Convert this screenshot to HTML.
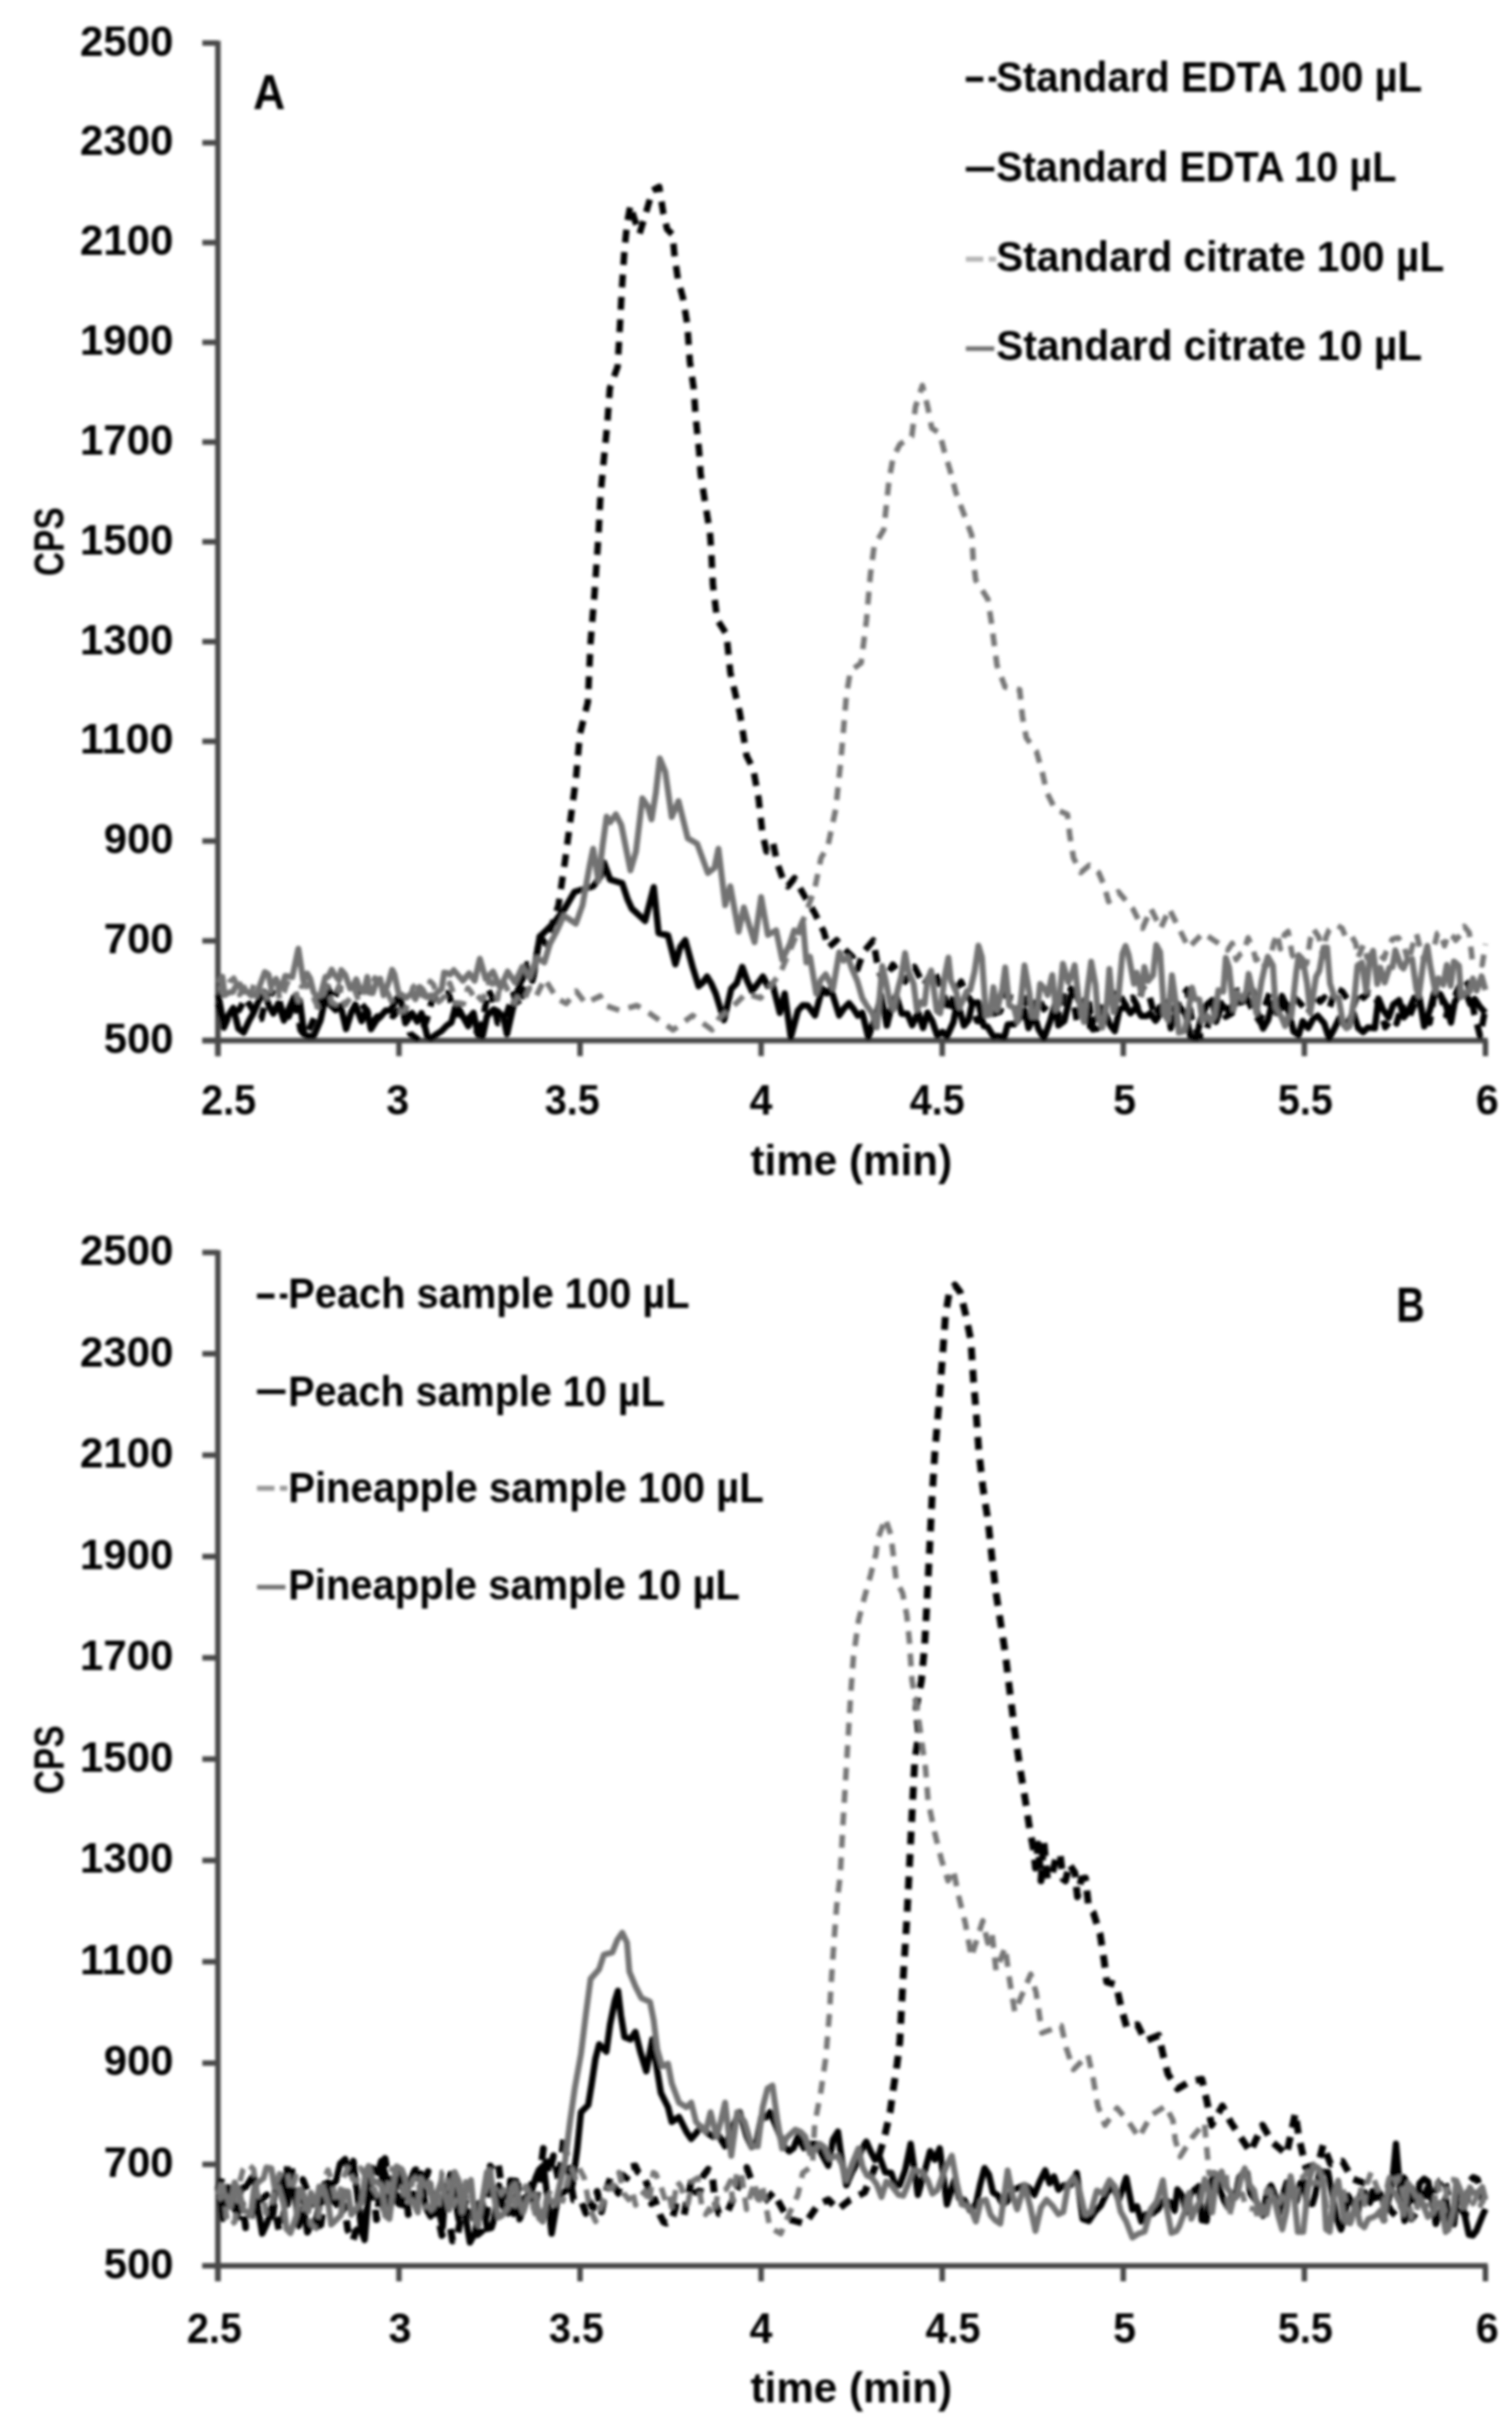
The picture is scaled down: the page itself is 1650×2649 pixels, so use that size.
<!DOCTYPE html>
<html lang="en"><head><meta charset="utf-8"><title>Chromatograms A and B</title>
<style>html,body{margin:0;padding:0;background:#fff}svg{display:block}text{font-family:"Liberation Sans", "DejaVu Sans", sans-serif;font-weight:700;fill:#000}.ln{fill:none;stroke-linejoin:round;stroke-linecap:butt}.ax{fill:none;stroke:#4a4a4a;stroke-width:6}</style></head><body>
<svg width="1650" height="2649" viewBox="0 0 1650 2649">
<defs><filter id="bl" x="-2%" y="-2%" width="104%" height="104%"><feGaussianBlur stdDeviation="1.7"/></filter></defs>
<rect width="1650" height="2649" fill="#fff"/>
<g filter="url(#bl)">
<path class="ax" d="M237.8 44.5 V1152.3 M220.8 1135.3 H1623.5"/>
<path class="ax" d="M220.8 1135.3 H237.8"/>
<text x="189.3" y="1148.8" font-size="46" text-anchor="end" textLength="76" lengthAdjust="spacingAndGlyphs">500</text>
<path class="ax" d="M220.8 1026.5 H237.8"/>
<text x="189.3" y="1040.0" font-size="46" text-anchor="end" textLength="76" lengthAdjust="spacingAndGlyphs">700</text>
<path class="ax" d="M220.8 917.6 H237.8"/>
<text x="189.3" y="931.1" font-size="46" text-anchor="end" textLength="76" lengthAdjust="spacingAndGlyphs">900</text>
<path class="ax" d="M220.8 808.8 H237.8"/>
<text x="189.3" y="822.3" font-size="46" text-anchor="end" textLength="102" lengthAdjust="spacingAndGlyphs">1100</text>
<path class="ax" d="M220.8 700.0 H237.8"/>
<text x="189.3" y="713.5" font-size="46" text-anchor="end" textLength="102" lengthAdjust="spacingAndGlyphs">1300</text>
<path class="ax" d="M220.8 591.1 H237.8"/>
<text x="189.3" y="604.6" font-size="46" text-anchor="end" textLength="102" lengthAdjust="spacingAndGlyphs">1500</text>
<path class="ax" d="M220.8 482.3 H237.8"/>
<text x="189.3" y="495.8" font-size="46" text-anchor="end" textLength="102" lengthAdjust="spacingAndGlyphs">1700</text>
<path class="ax" d="M220.8 373.5 H237.8"/>
<text x="189.3" y="387.0" font-size="46" text-anchor="end" textLength="102" lengthAdjust="spacingAndGlyphs">1900</text>
<path class="ax" d="M220.8 264.7 H237.8"/>
<text x="189.3" y="278.2" font-size="46" text-anchor="end" textLength="102" lengthAdjust="spacingAndGlyphs">2100</text>
<path class="ax" d="M220.8 155.8 H237.8"/>
<text x="189.3" y="169.3" font-size="46" text-anchor="end" textLength="102" lengthAdjust="spacingAndGlyphs">2300</text>
<path class="ax" d="M220.8 47.0 H237.8"/>
<text x="189.3" y="60.5" font-size="46" text-anchor="end" textLength="102" lengthAdjust="spacingAndGlyphs">2500</text>
<path class="ax" d="M237.8 1135.3 V1152.3"/>
<text x="249.6" y="1216.0" font-size="46" text-anchor="middle" textLength="60" lengthAdjust="spacingAndGlyphs">2.5</text>
<path class="ax" d="M435.4 1135.3 V1152.3"/>
<text x="433.9" y="1216.0" font-size="46" text-anchor="middle" textLength="25" lengthAdjust="spacingAndGlyphs">3</text>
<path class="ax" d="M633.0 1135.3 V1152.3"/>
<text x="624.5" y="1216.0" font-size="46" text-anchor="middle" textLength="60" lengthAdjust="spacingAndGlyphs">3.5</text>
<path class="ax" d="M830.6 1135.3 V1152.3"/>
<text x="830.6" y="1216.0" font-size="46" text-anchor="middle" textLength="25" lengthAdjust="spacingAndGlyphs">4</text>
<path class="ax" d="M1028.2 1135.3 V1152.3"/>
<text x="1022.7" y="1216.0" font-size="46" text-anchor="middle" textLength="60" lengthAdjust="spacingAndGlyphs">4.5</text>
<path class="ax" d="M1225.8 1135.3 V1152.3"/>
<text x="1227.3" y="1216.0" font-size="46" text-anchor="middle" textLength="25" lengthAdjust="spacingAndGlyphs">5</text>
<path class="ax" d="M1423.4 1135.3 V1152.3"/>
<text x="1424.4" y="1216.0" font-size="46" text-anchor="middle" textLength="60" lengthAdjust="spacingAndGlyphs">5.5</text>
<path class="ax" d="M1621.0 1135.3 V1152.3"/>
<text x="1623.0" y="1216.0" font-size="46" text-anchor="middle" textLength="25" lengthAdjust="spacingAndGlyphs">6</text>
<text x="929" y="1281.5" font-size="46" text-anchor="middle" textLength="220" lengthAdjust="spacingAndGlyphs">time (min)</text>
<text transform="translate(69.5 591.0) rotate(-90)" font-size="46" text-anchor="middle" textLength="75" lengthAdjust="spacingAndGlyphs">CPS</text>
<path class="ln" stroke="#000" stroke-width="7" stroke-dasharray="14 10.5" d="M238.0 1095.0 L244.3 1121.2 L250.7 1105.9 L255.4 1103.0 L261.0 1102.0 L267.6 1089.2 L275.1 1100.2 L280.6 1111.6 L285.1 1111.6 L291.4 1085.1 L297.0 1083.0 L302.9 1085.2 L310.7 1113.1 L315.2 1108.8 L322.1 1090.1 L327.9 1123.6 L333.3 1130.7 L340.6 1116.1 L345.1 1104.8 L352.3 1082.1 L357.1 1076.5 L363.8 1091.7 L369.3 1078.9 L375.4 1079.4 L383.1 1080.7 L388.7 1077.4 L393.5 1093.8 L400.9 1103.2 L405.3 1116.7 L411.7 1108.9 L418.9 1108.5 L424.3 1105.8 L429.0 1108.7 L437.2 1099.4 L441.3 1097.8 L447.4 1127.6 L454.7 1133.0 L459.6 1126.0 L465.5 1113.2 L471.0 1093.0 L477.0 1085.0 L484.2 1083.8 L489.4 1083.5 L496.2 1107.2 L501.7 1105.2 L507.9 1114.8 L515.1 1107.0 L520.0 1125.3 L526.2 1117.0 L532.9 1080.5 L537.2 1088.0 L543.2 1116.3 L551.0 1111.8 L560.0 1085.0 L568.0 1098.0 L575.0 1052.0 L582.0 1066.0 L589.0 1022.0 L596.0 1030.0 L603.7 1005.0 L609.5 987.5 L616.8 938.0 L622.6 894.0 L628.4 850.7 L632.8 801.0 L641.5 766.0 L644.4 702.0 L648.8 647.0 L653.0 586.0 L655.3 540.0 L659.7 493.4 L662.6 464.0 L665.5 423.6 L674.0 400.0 L676.6 353.7 L678.6 316.0 L681.5 272.0 L684.4 243.0 L688.0 224.0 L692.0 238.0 L698.0 254.8 L706.0 228.6 L712.0 208.0 L719.4 203.8 L723.7 231.5 L728.0 250.0 L734.0 256.0 L736.0 278.0 L739.7 304.0 L745.5 326.0 L750.0 353.7 L752.8 394.5 L757.0 423.6 L759.0 452.7 L763.0 493.4 L764.5 516.7 L770.0 551.6 L774.7 580.7 L776.0 598.0 L778.0 638.0 L782.6 676.0 L792.8 692.0 L797.0 734.0 L807.4 778.0 L814.7 824.5 L822.0 839.0 L827.8 871.0 L832.0 909.0 L836.5 929.0 L843.8 920.5 L848.0 941.0 L854.0 958.0 L859.8 967.0 L867.0 958.0 L877.0 976.0 L889.0 996.0 L899.0 1016.5 L904.0 1033.8 L913.0 1025.8 L922.4 1036.4 L930.4 1044.0 L935.7 1057.6 L942.0 1039.0 L953.0 1026.0 L958.5 1057.8 L963.8 1071.0 L974.4 1052.5 L987.6 1071.0 L998.0 1055.0 L1008.0 1075.0 L1019.0 1058.0 L1030.0 1085.0 L1035.6 1105.1 L1042.8 1079.2 L1048.9 1071.0 L1054.5 1084.9 L1059.5 1091.9 L1066.2 1113.9 L1072.2 1114.2 L1078.5 1108.0 L1083.7 1106.1 L1091.4 1103.6 L1097.3 1084.9 L1101.6 1088.2 L1107.9 1088.8 L1115.3 1108.7 L1119.9 1089.0 L1127.6 1103.5 L1132.6 1086.9 L1139.0 1101.0 L1145.1 1093.6 L1149.9 1097.9 L1156.1 1108.4 L1162.1 1076.4 L1169.1 1078.8 L1175.2 1113.6 L1179.9 1100.5 L1187.7 1087.5 L1192.6 1123.1 L1198.2 1122.0 L1204.7 1086.8 L1212.1 1086.6 L1217.1 1079.6 L1223.3 1088.1 L1230.0 1098.8 L1236.1 1088.5 L1241.7 1098.9 L1246.9 1077.5 L1253.3 1083.0 L1260.1 1109.1 L1265.9 1098.4 L1271.4 1096.2 L1276.9 1103.1 L1283.0 1098.7 L1289.9 1088.2 L1295.5 1079.7 L1300.2 1110.5 L1307.9 1130.9 L1314.4 1130.3 L1320.2 1111.9 L1326.5 1093.7 L1332.5 1094.3 L1337.6 1109.3 L1344.3 1105.5 L1349.3 1080.9 L1354.7 1080.9 L1361.3 1090.3 L1367.3 1102.8 L1374.8 1114.5 L1380.2 1097.9 L1385.9 1082.3 L1392.1 1107.9 L1397.0 1101.2 L1404.0 1096.3 L1410.4 1086.4 L1415.7 1091.5 L1421.4 1097.4 L1427.8 1106.0 L1433.6 1085.8 L1440.5 1092.9 L1445.3 1088.3 L1451.2 1098.8 L1457.7 1078.2 L1464.7 1081.6 L1470.9 1091.6 L1476.6 1098.5 L1483.3 1080.5 L1488.0 1088.5 L1493.2 1083.1 L1500.4 1085.8 L1506.3 1102.0 L1511.7 1120.7 L1518.9 1111.1 L1524.1 1116.6 L1529.9 1096.1 L1536.2 1113.6 L1543.7 1095.2 L1547.5 1087.1 L1554.3 1112.9 L1560.2 1115.9 L1566.0 1079.5 L1572.6 1086.3 L1578.1 1107.5 L1585.8 1092.8 L1590.8 1079.5 L1597.4 1067.8 L1602.1 1073.8 L1608.9 1105.8 L1615.2 1130.5 L1621.0 1100.0"/>
<path class="ln" stroke="#000" stroke-width="7" d="M238.0 1085.0 L244.1 1117.1 L250.3 1106.2 L254.6 1099.8 L260.2 1122.3 L265.9 1126.5 L271.9 1113.5 L276.2 1106.1 L282.7 1091.1 L288.1 1081.9 L293.8 1098.1 L298.3 1105.8 L303.8 1094.6 L309.8 1113.3 L316.7 1097.4 L320.9 1088.0 L327.1 1091.5 L331.9 1128.4 L337.0 1130.6 L342.4 1130.1 L349.8 1113.0 L355.3 1087.6 L359.8 1095.5 L366.1 1101.9 L371.7 1097.5 L377.7 1122.7 L383.4 1104.5 L387.7 1096.0 L394.6 1114.1 L400.1 1101.6 L404.8 1122.8 L411.0 1112.9 L415.6 1108.8 L420.9 1102.5 L426.2 1102.4 L433.2 1089.1 L437.1 1089.0 L442.4 1116.2 L449.7 1105.3 L455.2 1114.5 L460.0 1105.4 L466.4 1131.2 L470.1 1133.0 L476.1 1128.6 L481.8 1124.9 L487.6 1118.8 L492.6 1115.5 L497.9 1094.8 L504.1 1107.3 L511.0 1119.5 L516.7 1105.1 L521.7 1129.0 L526.6 1130.4 L531.6 1108.1 L538.9 1101.3 L543.4 1103.7 L549.4 1109.5 L553.3 1128.2 L562.0 1090.0 L568.0 1072.0 L575.0 1060.0 L581.0 1070.0 L589.0 1022.0 L603.7 1007.8 L615.3 993.0 L627.0 973.0 L647.3 967.0 L656.0 955.4 L659.0 941.0 L665.8 959.7 L679.0 963.7 L685.0 981.6 L689.6 991.4 L704.0 1004.7 L713.4 968.0 L718.7 1018.0 L729.0 1020.5 L737.0 1052.0 L742.4 1033.1 L747.8 1025.8 L755.8 1055.0 L762.4 1076.0 L767.0 1071.9 L771.6 1065.5 L776.3 1073.3 L781.0 1084.0 L790.0 1113.0 L798.0 1078.7 L804.0 1072.7 L810.0 1055.0 L815.3 1069.8 L820.6 1081.4 L826.5 1073.8 L832.5 1065.5 L837.8 1075.6 L843.0 1073.4 L851.0 1105.0 L856.3 1084.0 L863.0 1131.6 L870.8 1102.5 L876.1 1096.7 L881.4 1097.0 L889.4 1107.8 L897.3 1078.7 L902.0 1083.6 L906.6 1078.7 L915.8 1107.8 L921.1 1100.1 L926.4 1094.6 L931.3 1100.5 L936.1 1108.1 L941.0 1105.0 L947.6 1131.6 L956.8 1105.0 L961.4 1085.7 L967.8 1118.8 L974.4 1092.9 L978.0 1086.3 L984.0 1106.1 L990.2 1105.9 L995.5 1118.6 L1001.9 1104.6 L1007.3 1121.5 L1012.2 1104.9 L1017.3 1114.0 L1022.8 1129.8 L1028.4 1125.8 L1033.4 1130.8 L1040.4 1115.3 L1044.7 1092.7 L1052.0 1119.0 L1057.0 1112.7 L1061.1 1094.3 L1067.7 1093.7 L1073.4 1119.3 L1077.6 1120.1 L1084.2 1131.0 L1088.7 1130.4 L1096.0 1131.8 L1099.7 1117.7 L1106.7 1117.5 L1113.1 1110.6 L1118.3 1102.2 L1122.4 1121.6 L1128.6 1106.9 L1133.2 1122.5 L1139.2 1132.7 L1146.0 1114.3 L1151.4 1095.6 L1155.0 1118.6 L1161.4 1113.9 L1167.6 1087.7 L1172.0 1081.4 L1179.1 1095.5 L1184.8 1090.3 L1189.5 1119.7 L1194.6 1112.1 L1201.3 1105.7 L1206.0 1104.1 L1210.8 1117.7 L1216.5 1124.9 L1221.8 1100.8 L1228.9 1098.7 L1233.7 1105.5 L1239.7 1098.9 L1245.5 1108.4 L1251.4 1108.4 L1255.1 1105.7 L1261.1 1113.5 L1267.8 1104.2 L1273.0 1093.7 L1277.7 1121.8 L1283.8 1104.9 L1288.3 1099.7 L1293.7 1106.2 L1299.0 1130.6 L1305.3 1132.7 L1310.5 1111.2 L1316.7 1096.3 L1323.3 1091.1 L1326.9 1114.8 L1333.4 1096.5 L1339.7 1101.9 L1344.6 1097.4 L1349.9 1094.2 L1356.0 1093.1 L1359.8 1083.8 L1367.5 1080.9 L1372.4 1105.5 L1378.3 1122.1 L1383.8 1112.8 L1387.6 1096.6 L1393.1 1105.2 L1398.9 1086.6 L1405.2 1100.3 L1411.8 1125.6 L1417.2 1129.3 L1421.6 1114.2 L1427.6 1121.5 L1433.4 1110.8 L1438.0 1108.2 L1445.1 1116.6 L1450.5 1133.0 L1455.5 1123.4 L1461.5 1110.9 L1466.8 1118.1 L1472.0 1113.7 L1476.7 1104.8 L1482.1 1121.5 L1487.6 1126.0 L1492.7 1121.0 L1500.3 1121.7 L1504.3 1089.4 L1509.2 1101.5 L1515.4 1110.2 L1520.4 1096.1 L1526.8 1091.2 L1532.1 1109.8 L1537.2 1102.4 L1543.5 1088.4 L1548.9 1087.8 L1554.2 1119.8 L1560.9 1100.3 L1565.2 1082.7 L1571.3 1084.7 L1577.6 1095.7 L1583.4 1115.6 L1587.5 1093.0 L1592.2 1086.2 L1599.9 1084.0 L1604.4 1095.5 L1609.3 1090.0 L1614.6 1098.0 L1621.0 1105.0"/>
<path class="ln" stroke="#777777" stroke-width="6" stroke-dasharray="14 10.5" d="M238.0 1078.0 L241.1 1078.4 L246.5 1084.5 L250.5 1071.3 L255.1 1067.3 L258.6 1074.5 L261.4 1085.3 L266.6 1077.1 L271.2 1088.2 L273.6 1086.6 L276.8 1074.4 L281.7 1080.7 L285.5 1081.1 L289.2 1084.0 L292.9 1092.9 L297.1 1071.8 L302.9 1069.9 L304.9 1090.7 L310.3 1081.4 L313.3 1072.5 L317.3 1074.9 L322.8 1081.5 L325.5 1092.3 L329.2 1076.3 L333.9 1073.5 L338.5 1083.5 L342.1 1088.5 L346.9 1098.7 L349.8 1094.9 L354.1 1079.3 L358.5 1076.3 L361.9 1093.9 L366.5 1095.6 L369.9 1075.6 L373.1 1088.8 L377.1 1096.3 L382.7 1087.9 L386.6 1078.7 L391.1 1090.9 L394.5 1089.3 L398.2 1077.4 L401.2 1082.3 L406.8 1072.7 L409.1 1066.8 L413.8 1073.5 L417.1 1076.3 L421.7 1080.0 L425.5 1088.9 L429.8 1097.1 L434.5 1102.2 L438.1 1103.7 L441.4 1102.7 L446.7 1093.4 L450.6 1077.3 L454.8 1073.4 L456.9 1084.3 L462.3 1086.6 L466.9 1085.0 L469.4 1070.6 L473.3 1074.6 L478.8 1093.1 L481.7 1090.6 L485.8 1086.1 L490.8 1072.5 L493.7 1080.2 L497.3 1094.8 L501.3 1094.2 L505.6 1095.5 L510.5 1078.1 L513.7 1081.7 L518.7 1090.6 L521.0 1086.1 L525.4 1091.1 L530.3 1084.0 L534.0 1069.7 L538.0 1072.6 L543.0 1090.3 L545.5 1073.8 L549.2 1070.2 L552.9 1077.7 L558.0 1090.4 L561.5 1094.3 L565.9 1085.1 L568.8 1085.0 L572.8 1089.3 L577.7 1078.1 L582.6 1078.6 L585.5 1086.2 L594.4 1068.0 L607.6 1089.0 L618.0 1095.0 L628.8 1081.4 L639.0 1094.6 L655.0 1086.7 L660.5 1097.0 L676.4 1102.5 L695.0 1097.0 L708.0 1105.0 L734.6 1123.7 L755.8 1107.8 L777.0 1123.7 L785.0 1110.5 L803.4 1094.6 L814.0 1084.0 L829.8 1089.0 L840.4 1076.0 L851.0 1062.8 L865.0 1030.0 L878.0 1000.0 L889.0 970.0 L896.0 936.0 L903.4 923.4 L912.0 882.7 L917.8 828.0 L923.7 758.0 L928.0 732.0 L939.7 723.4 L945.5 677.0 L949.8 627.4 L954.0 595.4 L964.4 578.0 L970.0 525.5 L974.6 499.0 L982.0 484.8 L995.0 476.0 L999.0 444.0 L1006.6 420.7 L1012.4 444.0 L1016.8 467.0 L1025.5 473.0 L1030.0 490.6 L1037.0 514.0 L1043.0 537.0 L1051.7 560.4 L1060.4 583.7 L1062.0 610.0 L1064.8 633.0 L1078.0 653.6 L1082.0 679.8 L1085.0 703.0 L1088.0 726.0 L1096.8 749.6 L1112.8 752.5 L1115.7 781.6 L1120.0 805.0 L1131.0 819.7 L1137.0 840.8 L1142.4 864.7 L1151.6 883.0 L1164.9 888.5 L1167.5 912.0 L1171.5 936.0 L1179.4 952.0 L1188.7 944.0 L1199.0 952.0 L1204.5 965.0 L1209.8 983.7 L1220.4 973.0 L1236.3 991.6 L1246.9 1012.8 L1256.0 991.6 L1266.7 1012.8 L1276.0 991.6 L1286.6 1012.8 L1297.0 1034.0 L1313.0 1018.0 L1329.0 1028.7 L1339.5 1036.6 L1344.7 1029.2 L1349.0 1047.1 L1353.4 1041.0 L1357.2 1038.8 L1362.0 1023.2 L1367.3 1034.8 L1370.5 1047.4 L1376.5 1043.6 L1380.2 1054.7 L1384.9 1051.6 L1389.8 1029.3 L1393.9 1018.6 L1397.1 1035.3 L1401.8 1019.5 L1405.7 1016.3 L1410.2 1041.7 L1416.9 1052.7 L1420.5 1054.8 L1425.9 1051.4 L1429.9 1024.8 L1433.2 1013.5 L1439.2 1022.2 L1443.6 1044.2 L1446.9 1022.7 L1450.5 1014.4 L1455.5 1010.2 L1459.6 1009.8 L1464.6 1012.8 L1468.3 1021.9 L1474.3 1019.8 L1479.4 1029.2 L1482.0 1044.9 L1487.9 1030.6 L1491.9 1045.2 L1496.1 1047.2 L1501.5 1040.5 L1504.7 1041.0 L1510.3 1046.1 L1512.8 1038.1 L1519.5 1024.6 L1522.1 1023.8 L1526.1 1023.3 L1532.7 1033.8 L1536.8 1050.5 L1541.1 1033.0 L1545.8 1018.9 L1549.3 1033.0 L1553.2 1045.3 L1558.1 1038.2 L1564.1 1037.5 L1568.6 1018.2 L1571.3 1017.1 L1576.3 1031.9 L1580.7 1018.7 L1586.3 1022.4 L1588.6 1025.9 L1595.0 1018.4 L1598.1 1010.7 L1603.3 1017.5 L1606.7 1047.9 L1611.1 1050.6 L1617.5 1052.7 L1621.0 1030.0"/>
<path class="ln" stroke="#727272" stroke-width="6.5" d="M238.0 1072.0 L242.7 1065.7 L245.1 1085.8 L250.2 1082.8 L254.2 1082.2 L256.6 1077.3 L261.8 1073.9 L264.4 1082.0 L270.2 1082.0 L273.6 1086.0 L278.2 1085.6 L279.8 1086.6 L284.4 1073.0 L289.0 1060.5 L292.9 1062.9 L295.7 1076.0 L301.3 1067.9 L305.1 1078.0 L307.7 1076.3 L311.3 1064.7 L319.0 1066.0 L325.6 1035.0 L331.0 1070.0 L335.2 1062.2 L338.4 1067.4 L342.2 1082.6 L345.7 1087.2 L349.6 1086.3 L355.1 1065.8 L358.2 1065.7 L362.0 1058.0 L364.8 1063.0 L370.0 1069.5 L372.4 1058.4 L376.8 1063.6 L382.1 1078.5 L385.1 1076.3 L388.8 1068.4 L392.9 1079.1 L397.1 1082.2 L400.8 1065.9 L403.3 1083.0 L406.7 1083.5 L411.2 1069.7 L414.9 1067.8 L418.6 1085.9 L424.2 1071.3 L427.9 1058.1 L430.4 1062.7 L435.1 1084.3 L438.3 1085.1 L443.4 1088.6 L446.1 1086.3 L449.5 1083.4 L453.3 1090.2 L457.9 1076.8 L461.0 1079.5 L465.6 1087.9 L470.2 1085.9 L472.9 1089.2 L476.3 1083.5 L482.0 1079.1 L484.7 1061.1 L487.5 1061.5 L491.2 1063.2 L495.2 1058.5 L505.0 1070.0 L512.0 1062.0 L518.0 1070.0 L523.6 1046.0 L530.0 1068.0 L538.0 1060.0 L546.0 1078.0 L554.0 1060.0 L562.0 1072.0 L570.0 1055.0 L578.0 1066.0 L586.0 1045.0 L594.0 1050.0 L600.0 1030.0 L608.0 1015.0 L615.3 999.0 L628.4 1007.8 L635.7 987.5 L643.0 946.7 L647.3 926.0 L653.0 961.0 L657.5 923.4 L662.0 891.0 L666.0 897.0 L672.0 888.5 L678.0 900.0 L688.0 949.6 L694.0 929.0 L701.0 871.0 L707.0 880.0 L711.0 894.0 L715.7 865.0 L720.0 827.4 L726.0 842.0 L733.0 891.4 L740.4 874.0 L750.6 914.7 L760.8 920.5 L772.5 952.5 L779.7 946.7 L784.0 926.0 L791.4 987.5 L797.0 967.0 L806.0 1016.5 L811.7 990.0 L817.5 1009.2 L823.4 1028.0 L830.6 978.7 L838.0 1020.0 L847.0 1015.0 L853.7 1047.0 L862.0 1030.0 L866.7 1015.1 L871.3 1017.3 L876.0 1005.0 L880.0 1050.0 L884.0 1044.0 L890.7 1084.0 L895.9 1069.0 L901.0 1063.0 L909.0 1078.7 L915.8 1039.0 L920.5 1048.0 L925.3 1044.4 L930.0 1057.6 L935.5 1070.1 L941.0 1089.0 L946.3 1097.9 L951.6 1105.0 L957.0 1121.0 L962.8 1053.9 L966.6 1070.4 L971.5 1095.1 L975.2 1101.4 L979.7 1079.6 L983.4 1065.9 L987.7 1039.9 L991.1 1059.3 L997.0 1073.5 L1000.6 1101.5 L1005.2 1093.2 L1008.9 1095.6 L1011.8 1070.7 L1016.2 1058.9 L1022.3 1103.0 L1026.0 1105.5 L1030.8 1066.0 L1035.0 1044.7 L1037.6 1069.4 L1043.6 1082.6 L1046.9 1099.2 L1051.5 1090.0 L1055.2 1081.1 L1058.8 1080.1 L1063.5 1060.0 L1067.7 1031.8 L1071.5 1044.2 L1075.9 1107.7 L1080.3 1107.1 L1084.1 1077.1 L1088.0 1102.1 L1093.9 1078.5 L1097.0 1055.4 L1101.3 1096.9 L1106.5 1099.7 L1110.5 1114.6 L1114.1 1090.9 L1118.0 1053.2 L1123.4 1083.6 L1126.3 1109.2 L1131.1 1109.1 L1135.1 1073.4 L1140.8 1079.8 L1143.2 1085.6 L1148.3 1063.7 L1152.3 1101.8 L1155.4 1095.7 L1159.9 1051.4 L1165.8 1071.6 L1169.8 1062.6 L1172.7 1053.1 L1176.8 1088.0 L1182.9 1115.1 L1186.3 1082.6 L1190.8 1049.3 L1195.5 1074.4 L1198.1 1107.1 L1202.9 1121.1 L1208.1 1092.9 L1210.6 1057.2 L1215.0 1104.2 L1220.7 1085.6 L1224.9 1040.4 L1228.3 1032.0 L1231.6 1041.9 L1237.5 1073.4 L1240.5 1061.2 L1245.8 1084.4 L1248.8 1055.1 L1252.8 1070.3 L1258.3 1063.9 L1261.8 1031.1 L1266.0 1038.8 L1270.4 1106.5 L1274.6 1113.0 L1278.9 1064.0 L1283.5 1096.8 L1286.4 1126.6 L1292.0 1125.2 L1295.8 1110.6 L1300.8 1077.5 L1303.8 1089.7 L1308.9 1090.5 L1312.0 1113.7 L1317.4 1108.4 L1321.6 1114.2 L1325.5 1108.3 L1329.6 1080.4 L1334.9 1081.9 L1337.7 1045.1 L1341.3 1055.8 L1346.1 1101.3 L1349.6 1082.9 L1355.9 1090.3 L1360.0 1081.5 L1362.6 1062.6 L1367.9 1087.0 L1371.1 1105.8 L1376.9 1069.6 L1380.1 1055.5 L1383.5 1043.8 L1389.1 1053.4 L1392.0 1098.9 L1398.1 1108.9 L1402.4 1119.4 L1405.9 1108.9 L1409.2 1108.8 L1414.7 1059.4 L1417.2 1042.1 L1421.6 1047.0 L1426.3 1072.7 L1429.9 1105.2 L1436.1 1065.9 L1439.8 1059.0 L1444.4 1033.7 L1448.2 1033.7 L1451.4 1072.9 L1455.8 1086.6 L1460.8 1088.8 L1465.5 1115.5 L1469.3 1121.9 L1472.8 1119.7 L1478.1 1087.3 L1481.4 1053.4 L1486.2 1050.1 L1490.9 1081.7 L1494.7 1046.6 L1498.4 1037.3 L1503.0 1073.6 L1506.3 1055.8 L1511.1 1072.0 L1516.2 1055.8 L1519.6 1055.1 L1522.7 1036.8 L1528.9 1054.1 L1531.5 1056.7 L1535.4 1048.0 L1541.0 1046.4 L1545.6 1079.0 L1548.3 1086.6 L1553.3 1049.2 L1557.6 1032.0 L1561.0 1054.4 L1566.4 1082.2 L1569.7 1067.4 L1575.0 1074.3 L1578.8 1052.7 L1583.1 1075.7 L1586.6 1048.9 L1592.1 1053.8 L1594.5 1087.7 L1599.4 1082.9 L1603.2 1082.4 L1607.3 1067.6 L1611.4 1080.8 L1616.8 1065.2 L1621.0 1080.0"/>
<path class="ax" d="M237.8 1364.0 V2489.0 M220.8 2472.0 H1623.5"/>
<path class="ax" d="M220.8 2472.0 H237.8"/>
<text x="189.3" y="2485.5" font-size="46" text-anchor="end" textLength="76" lengthAdjust="spacingAndGlyphs">500</text>
<path class="ax" d="M220.8 2361.4 H237.8"/>
<text x="189.3" y="2374.9" font-size="46" text-anchor="end" textLength="76" lengthAdjust="spacingAndGlyphs">700</text>
<path class="ax" d="M220.8 2250.9 H237.8"/>
<text x="189.3" y="2264.4" font-size="46" text-anchor="end" textLength="76" lengthAdjust="spacingAndGlyphs">900</text>
<path class="ax" d="M220.8 2140.3 H237.8"/>
<text x="189.3" y="2153.8" font-size="46" text-anchor="end" textLength="102" lengthAdjust="spacingAndGlyphs">1100</text>
<path class="ax" d="M220.8 2029.8 H237.8"/>
<text x="189.3" y="2043.3" font-size="46" text-anchor="end" textLength="102" lengthAdjust="spacingAndGlyphs">1300</text>
<path class="ax" d="M220.8 1919.2 H237.8"/>
<text x="189.3" y="1932.8" font-size="46" text-anchor="end" textLength="102" lengthAdjust="spacingAndGlyphs">1500</text>
<path class="ax" d="M220.8 1808.7 H237.8"/>
<text x="189.3" y="1822.2" font-size="46" text-anchor="end" textLength="102" lengthAdjust="spacingAndGlyphs">1700</text>
<path class="ax" d="M220.8 1698.2 H237.8"/>
<text x="189.3" y="1711.7" font-size="46" text-anchor="end" textLength="102" lengthAdjust="spacingAndGlyphs">1900</text>
<path class="ax" d="M220.8 1587.6 H237.8"/>
<text x="189.3" y="1601.1" font-size="46" text-anchor="end" textLength="102" lengthAdjust="spacingAndGlyphs">2100</text>
<path class="ax" d="M220.8 1477.0 H237.8"/>
<text x="189.3" y="1490.5" font-size="46" text-anchor="end" textLength="102" lengthAdjust="spacingAndGlyphs">2300</text>
<path class="ax" d="M220.8 1366.5 H237.8"/>
<text x="189.3" y="1380.0" font-size="46" text-anchor="end" textLength="102" lengthAdjust="spacingAndGlyphs">2500</text>
<path class="ax" d="M237.8 2472.0 V2489.0"/>
<text x="234.0" y="2556.3" font-size="46" text-anchor="middle" textLength="60" lengthAdjust="spacingAndGlyphs">2.5</text>
<path class="ax" d="M435.4 2472.0 V2489.0"/>
<text x="436.4" y="2556.3" font-size="46" text-anchor="middle" textLength="25" lengthAdjust="spacingAndGlyphs">3</text>
<path class="ax" d="M633.0 2472.0 V2489.0"/>
<text x="629.0" y="2556.3" font-size="46" text-anchor="middle" textLength="60" lengthAdjust="spacingAndGlyphs">3.5</text>
<path class="ax" d="M830.6 2472.0 V2489.0"/>
<text x="830.6" y="2556.3" font-size="46" text-anchor="middle" textLength="25" lengthAdjust="spacingAndGlyphs">4</text>
<path class="ax" d="M1028.2 2472.0 V2489.0"/>
<text x="1040.0" y="2556.3" font-size="46" text-anchor="middle" textLength="60" lengthAdjust="spacingAndGlyphs">4.5</text>
<path class="ax" d="M1225.8 2472.0 V2489.0"/>
<text x="1227.3" y="2556.3" font-size="46" text-anchor="middle" textLength="25" lengthAdjust="spacingAndGlyphs">5</text>
<path class="ax" d="M1423.4 2472.0 V2489.0"/>
<text x="1424.4" y="2556.3" font-size="46" text-anchor="middle" textLength="60" lengthAdjust="spacingAndGlyphs">5.5</text>
<path class="ax" d="M1621.0 2472.0 V2489.0"/>
<text x="1623.0" y="2556.3" font-size="46" text-anchor="middle" textLength="25" lengthAdjust="spacingAndGlyphs">6</text>
<text x="929" y="2620.5" font-size="46" text-anchor="middle" textLength="220" lengthAdjust="spacingAndGlyphs">time (min)</text>
<text transform="translate(69.5 1920.0) rotate(-90)" font-size="46" text-anchor="middle" textLength="75" lengthAdjust="spacingAndGlyphs">CPS</text>
<path class="ln" stroke="#000" stroke-width="7.5" stroke-dasharray="14 10.5" d="M238.0 2390.0 L242.7 2374.7 L248.0 2404.2 L251.4 2380.9 L256.6 2400.2 L259.7 2423.6 L264.5 2404.1 L268.2 2430.4 L273.8 2421.0 L277.7 2404.1 L283.0 2405.4 L285.8 2399.2 L291.1 2394.8 L296.7 2425.0 L298.9 2406.3 L304.8 2434.3 L309.3 2419.4 L313.9 2360.3 L317.9 2364.7 L322.2 2392.9 L327.7 2409.2 L330.5 2378.1 L336.0 2392.1 L340.3 2391.5 L344.9 2420.3 L348.7 2436.1 L352.0 2415.0 L358.3 2381.1 L361.5 2404.6 L367.2 2400.9 L372.1 2416.1 L376.0 2406.3 L379.5 2432.7 L385.1 2444.4 L388.4 2434.0 L392.6 2430.6 L397.7 2425.4 L402.3 2399.7 L406.8 2380.9 L410.9 2421.6 L415.0 2390.4 L420.2 2355.0 L423.7 2376.3 L428.8 2379.1 L431.7 2378.6 L436.5 2412.8 L442.7 2382.2 L445.5 2415.9 L450.4 2398.4 L454.0 2367.2 L460.2 2374.7 L463.5 2378.4 L467.3 2369.1 L472.3 2407.7 L478.3 2419.8 L482.3 2438.9 L484.9 2433.5 L491.6 2431.5 L493.9 2444.9 L499.4 2438.4 L503.9 2413.5 L508.9 2399.4 L511.8 2402.1 L517.9 2425.7 L521.0 2438.0 L526.5 2433.5 L531.4 2415.2 L535.1 2363.3 L538.1 2368.6 L544.1 2362.5 L548.0 2392.4 L553.1 2402.0 L557.7 2406.7 L560.5 2415.1 L566.0 2384.8 L570.6 2406.1 L575.7 2398.2 L579.4 2383.5 L583.8 2413.2 L593.0 2344.0 L599.0 2372.0 L604.0 2352.0 L610.0 2380.0 L615.4 2331.0 L620.0 2365.0 L626.0 2400.0 L629.2 2399.6 L635.2 2403.3 L639.4 2414.8 L643.6 2402.2 L647.4 2409.3 L651.7 2391.0 L656.3 2413.1 L660.6 2393.2 L666.1 2376.4 L669.9 2385.0 L674.9 2392.9 L679.0 2372.8 L683.7 2376.6 L688.6 2364.0 L693.2 2363.1 L696.1 2369.6 L702.5 2374.5 L706.6 2384.2 L711.0 2404.2 L714.5 2399.6 L720.2 2416.5 L724.3 2424.4 L727.3 2425.6 L732.8 2423.0 L737.6 2407.1 L741.9 2409.5 L746.6 2416.3 L750.2 2397.4 L755.0 2378.6 L758.0 2391.5 L763.8 2392.4 L767.0 2374.4 L772.8 2366.7 L777.7 2376.9 L780.8 2404.5 L784.5 2414.9 L794.0 2413.0 L804.0 2390.0 L815.0 2365.0 L823.0 2388.0 L831.0 2405.0 L844.0 2392.0 L860.0 2421.0 L878.6 2426.0 L893.0 2405.0 L904.0 2400.0 L914.4 2410.5 L927.6 2400.0 L943.5 2392.0 L956.7 2360.0 L964.7 2333.8 L971.3 2304.7 L975.0 2278.0 L979.0 2251.7 L981.9 2228.0 L985.0 2168.0 L989.5 2095.6 L992.4 2037.4 L995.3 1979.0 L998.2 1921.0 L1002.6 1891.9 L999.7 1862.8 L1005.5 1833.7 L1009.0 1795.8 L1011.3 1753.0 L1014.2 1694.7 L1017.0 1636.5 L1020.0 1587.0 L1024.4 1534.6 L1028.8 1476.4 L1031.7 1435.7 L1036.0 1409.5 L1042.0 1402.0 L1047.7 1409.5 L1053.5 1432.8 L1059.4 1461.9 L1062.3 1505.5 L1065.2 1540.4 L1068.0 1581.0 L1072.5 1622.0 L1078.3 1659.8 L1082.6 1700.5 L1087.0 1738.3 L1092.8 1776.0 L1097.2 1805.0 L1101.6 1842.4 L1107.4 1889.0 L1113.2 1929.7 L1119.0 1964.6 L1123.4 1993.7 L1127.7 2017.0 L1130.0 2038.0 L1133.0 2012.0 L1136.0 2052.0 L1139.0 2008.0 L1143.0 2050.0 L1148.0 2046.0 L1152.0 2028.0 L1156.9 2022.8 L1160.0 2050.0 L1162.7 2052.0 L1167.0 2034.0 L1172.9 2043.0 L1175.8 2069.4 L1180.0 2050.0 L1184.5 2049.0 L1188.0 2080.0 L1193.2 2086.9 L1200.5 2110.0 L1204.9 2139.0 L1207.8 2162.5 L1218.0 2165.4 L1223.8 2191.6 L1229.6 2212.0 L1241.3 2209.0 L1250.0 2226.6 L1264.5 2220.7 L1269.3 2242.0 L1274.6 2263.0 L1285.0 2279.0 L1298.4 2271.0 L1311.6 2268.5 L1317.0 2292.0 L1322.2 2318.7 L1334.0 2297.6 L1343.4 2316.0 L1354.0 2332.0 L1364.5 2347.8 L1377.8 2318.7 L1388.4 2337.0 L1404.0 2350.5 L1413.5 2305.5 L1417.5 2332.0 L1425.0 2365.0 L1438.6 2361.0 L1444.0 2340.0 L1452.0 2361.0 L1465.0 2358.0 L1475.7 2377.0 L1497.0 2385.0 L1502.1 2404.1 L1506.5 2413.5 L1510.2 2422.2 L1515.5 2408.1 L1518.5 2412.7 L1523.2 2417.0 L1529.1 2412.1 L1531.8 2376.0 L1536.0 2382.5 L1540.2 2420.8 L1546.1 2413.4 L1550.9 2393.1 L1553.5 2402.0 L1558.9 2383.4 L1563.2 2386.0 L1567.4 2389.6 L1571.6 2379.2 L1576.4 2377.0 L1580.3 2395.4 L1586.6 2402.7 L1589.3 2393.4 L1594.5 2409.8 L1599.2 2417.4 L1603.7 2380.1 L1607.7 2375.7 L1612.2 2377.6 L1617.6 2399.8 L1621.0 2400.0"/>
<path class="ln" stroke="#000" stroke-width="7" d="M238.0 2385.0 L243.5 2420.9 L247.1 2389.1 L250.3 2386.7 L256.0 2410.6 L259.4 2400.1 L264.4 2387.0 L268.2 2386.2 L273.5 2377.9 L277.0 2373.9 L281.9 2411.3 L286.2 2436.8 L291.3 2425.7 L296.8 2410.8 L300.4 2389.1 L305.3 2383.8 L309.7 2376.4 L313.6 2405.4 L317.0 2385.0 L321.4 2390.1 L326.0 2428.7 L331.4 2408.4 L335.4 2435.5 L341.3 2424.8 L343.9 2425.1 L348.2 2408.5 L353.9 2382.8 L358.3 2404.2 L361.4 2384.2 L366.5 2379.9 L371.2 2360.5 L376.6 2355.7 L380.9 2370.1 L385.6 2357.7 L389.2 2388.4 L394.6 2434.9 L397.9 2443.8 L401.9 2396.4 L406.0 2365.2 L412.1 2370.6 L416.1 2357.5 L420.5 2371.8 L425.8 2405.7 L429.4 2401.5 L433.1 2366.6 L438.5 2387.4 L443.5 2391.7 L446.1 2382.8 L452.4 2367.8 L455.6 2375.6 L459.3 2371.4 L464.7 2408.9 L469.8 2418.1 L473.5 2411.0 L477.4 2405.5 L483.1 2430.0 L485.9 2393.4 L491.7 2371.9 L495.4 2392.9 L500.5 2421.4 L504.7 2388.4 L508.6 2422.1 L512.8 2446.5 L518.8 2435.4 L522.3 2403.8 L526.4 2403.4 L531.6 2431.7 L536.4 2430.5 L539.2 2421.0 L544.6 2384.4 L548.3 2406.4 L554.2 2414.8 L556.9 2378.9 L563.2 2379.4 L567.0 2421.2 L571.4 2410.6 L575.9 2394.3 L579.7 2391.8 L584.6 2375.8 L588.3 2367.2 L593.2 2362.6 L602.0 2436.8 L608.8 2397.0 L624.7 2384.0 L630.0 2344.0 L634.0 2304.5 L641.9 2296.6 L645.8 2272.8 L649.8 2246.0 L653.8 2230.5 L661.7 2238.4 L665.7 2209.0 L671.0 2183.0 L674.4 2172.0 L677.6 2198.7 L681.5 2222.5 L688.0 2225.0 L693.4 2217.0 L698.7 2238.4 L705.3 2259.6 L712.0 2225.0 L716.0 2251.6 L721.2 2283.4 L729.0 2299.0 L733.0 2315.0 L741.0 2309.8 L749.0 2325.7 L754.3 2333.6 L759.6 2327.4 L765.0 2320.4 L771.5 2326.8 L778.0 2331.0 L784.6 2330.4 L791.3 2341.6 L799.3 2320.4 L807.2 2304.5 L815.0 2331.0 L820.4 2342.4 L825.7 2336.3 L831.0 2309.8 L835.6 2310.2 L840.3 2304.5 L844.9 2314.7 L849.5 2325.7 L855.5 2341.9 L861.4 2347.0 L866.0 2343.4 L870.7 2331.0 L877.4 2343.5 L884.0 2339.0 L890.6 2339.0 L897.2 2350.7 L903.8 2362.9 L909.1 2334.4 L914.4 2325.8 L919.0 2359.5 L923.7 2384.0 L929.4 2370.2 L935.1 2360.0 L940.8 2344.0 L945.4 2336.6 L950.1 2347.4 L954.8 2356.4 L959.4 2352.0 L966.0 2370.0 L972.6 2370.8 L977.2 2384.7 L981.9 2384.0 L987.8 2367.7 L993.8 2339.0 L1001.7 2394.6 L1008.4 2371.4 L1015.0 2347.0 L1020.2 2356.2 L1025.5 2344.0 L1033.4 2405.0 L1041.4 2378.7 L1046.7 2398.5 L1052.0 2400.0 L1058.5 2411.4 L1065.0 2405.0 L1069.7 2383.1 L1074.4 2365.5 L1079.1 2372.4 L1083.7 2392.0 L1089.0 2395.2 L1094.3 2405.0 L1099.6 2401.4 L1104.9 2389.0 L1111.5 2387.2 L1118.0 2384.0 L1123.3 2387.5 L1128.7 2394.6 L1134.7 2380.0 L1140.6 2368.0 L1145.4 2381.9 L1150.2 2374.6 L1155.0 2389.0 L1161.7 2383.9 L1168.4 2384.0 L1175.0 2370.8 L1181.6 2421.0 L1188.2 2423.1 L1194.8 2413.0 L1201.4 2406.1 L1208.0 2392.0 L1214.5 2385.9 L1221.0 2400.0 L1229.0 2376.0 L1235.8 2410.5 L1240.7 2407.1 L1245.5 2423.6 L1250.4 2415.8 L1257.0 2415.3 L1263.6 2410.5 L1270.2 2400.4 L1276.8 2402.5 L1281.8 2411.9 L1284.9 2388.8 L1290.7 2396.2 L1294.0 2414.0 L1299.2 2394.4 L1303.2 2389.4 L1308.4 2385.3 L1311.5 2422.1 L1316.6 2423.2 L1321.6 2380.5 L1325.1 2371.2 L1331.3 2389.3 L1335.7 2400.6 L1340.1 2408.3 L1344.4 2393.2 L1348.9 2393.4 L1352.4 2375.5 L1357.5 2369.9 L1360.9 2370.6 L1364.5 2393.1 L1371.0 2401.6 L1375.4 2409.4 L1378.2 2417.5 L1382.9 2390.0 L1387.0 2384.5 L1392.6 2398.3 L1395.7 2415.8 L1401.7 2389.4 L1404.2 2381.2 L1409.5 2391.9 L1414.9 2401.6 L1418.6 2382.5 L1422.2 2379.2 L1426.4 2404.4 L1432.3 2404.4 L1435.3 2394.1 L1440.2 2368.2 L1445.4 2370.0 L1449.2 2369.7 L1452.9 2389.1 L1459.2 2422.3 L1463.4 2432.4 L1467.6 2419.3 L1470.8 2395.2 L1476.1 2403.3 L1481.7 2415.3 L1485.0 2392.2 L1488.9 2391.6 L1494.9 2403.4 L1497.9 2390.6 L1502.8 2390.3 L1506.3 2393.2 L1512.4 2411.1 L1519.0 2385.0 L1523.4 2339.0 L1528.0 2392.0 L1532.8 2423.0 L1536.8 2404.1 L1540.6 2387.0 L1546.7 2405.7 L1549.0 2382.2 L1554.2 2377.1 L1558.6 2380.4 L1564.5 2410.4 L1566.9 2426.3 L1572.5 2411.7 L1577.8 2397.2 L1581.4 2424.3 L1586.6 2426.8 L1589.7 2398.2 L1594.3 2393.3 L1598.5 2417.6 L1603.0 2438.1 L1607.3 2438.9 L1611.1 2433.8 L1617.7 2417.7 L1621.0 2410.0"/>
<path class="ln" stroke="#777777" stroke-width="6" stroke-dasharray="14 10.5" d="M238.0 2395.0 L242.4 2377.1 L247.3 2419.2 L250.4 2428.3 L256.3 2424.1 L260.5 2384.9 L265.0 2367.6 L270.1 2360.7 L273.4 2363.5 L276.7 2366.7 L281.2 2396.1 L287.6 2395.5 L290.2 2414.5 L295.0 2412.1 L300.4 2385.5 L305.0 2371.7 L309.5 2373.9 L313.4 2368.8 L317.3 2391.0 L323.1 2374.5 L325.4 2376.7 L330.4 2410.1 L336.6 2404.6 L339.1 2426.4 L345.1 2431.3 L349.0 2407.7 L353.5 2378.1 L357.9 2367.5 L361.9 2379.1 L367.3 2404.4 L369.8 2396.2 L374.8 2376.4 L380.4 2362.6 L384.7 2377.5 L388.9 2380.0 L393.5 2365.4 L397.0 2371.1 L402.1 2378.4 L406.5 2387.0 L411.5 2394.4 L414.5 2404.0 L419.1 2412.3 L423.6 2382.7 L427.8 2366.1 L433.5 2373.2 L437.3 2377.3 L440.7 2394.4 L447.1 2392.1 L450.7 2378.3 L455.8 2373.6 L460.1 2404.6 L463.7 2407.8 L467.9 2407.0 L472.9 2413.8 L478.3 2410.7 L482.4 2369.8 L487.2 2369.9 L490.7 2391.7 L495.0 2405.8 L498.9 2398.5 L503.9 2392.3 L508.3 2380.3 L513.3 2383.6 L517.9 2419.4 L522.5 2427.7 L525.3 2402.0 L530.7 2387.4 L533.7 2375.4 L538.7 2390.3 L543.9 2382.5 L546.9 2394.0 L553.4 2384.1 L557.0 2395.4 L560.7 2411.9 L565.6 2390.8 L570.8 2391.2 L573.7 2385.2 L580.1 2397.1 L583.9 2415.1 L588.0 2407.6 L591.6 2419.3 L597.1 2396.4 L600.6 2393.3 L604.6 2402.4 L610.9 2400.0 L614.2 2401.3 L619.6 2378.4 L623.3 2363.4 L628.0 2376.2 L632.0 2365.6 L637.4 2375.7 L641.8 2399.5 L645.3 2413.5 L650.1 2423.6 L653.8 2412.2 L659.8 2398.4 L663.1 2386.8 L667.9 2388.0 L672.3 2376.6 L675.6 2370.1 L680.6 2392.8 L686.1 2399.8 L690.0 2390.1 L693.6 2405.8 L697.9 2397.4 L704.0 2390.4 L708.3 2404.1 L712.9 2370.3 L715.6 2371.8 L720.9 2384.1 L725.1 2397.9 L729.5 2391.5 L733.8 2411.8 L738.9 2379.8 L743.2 2385.6 L746.4 2396.4 L750.7 2404.3 L755.5 2379.9 L761.4 2376.2 L766.0 2407.8 L770.0 2416.0 L773.7 2410.0 L778.5 2417.0 L783.2 2394.7 L786.5 2390.5 L792.8 2388.3 L797.1 2379.3 L799.4 2400.6 L804.4 2369.1 L808.9 2371.0 L814.7 2410.5 L819.3 2393.2 L823.8 2380.6 L827.0 2406.2 L831.7 2383.1 L840.0 2430.0 L852.0 2437.0 L857.5 2423.6 L870.7 2394.5 L876.0 2370.7 L886.6 2362.8 L889.0 2318.0 L895.8 2282.0 L901.0 2246.0 L905.0 2198.7 L907.7 2153.8 L910.4 2114.0 L913.0 2079.7 L917.0 2045.3 L919.7 1993.7 L924.0 1921.0 L928.4 1848.0 L931.3 1808.0 L937.0 1767.5 L943.0 1744.0 L950.2 1718.0 L956.0 1694.7 L957.5 1680.0 L966.2 1656.9 L972.0 1674.0 L975.0 1697.6 L977.9 1723.8 L985.0 1738.3 L989.5 1761.6 L992.4 1790.7 L995.3 1833.7 L1002.6 1877.0 L1010.0 1929.7 L1012.8 1964.6 L1020.0 1999.5 L1027.3 2028.6 L1034.6 2052.0 L1040.4 2040.0 L1046.3 2069.4 L1053.5 2098.5 L1060.0 2135.0 L1072.5 2095.6 L1078.0 2120.0 L1082.6 2110.0 L1087.0 2150.0 L1097.0 2124.7 L1101.6 2159.6 L1107.4 2195.0 L1124.8 2153.8 L1130.7 2174.0 L1137.0 2218.0 L1158.2 2210.0 L1163.5 2234.0 L1171.4 2258.0 L1187.3 2242.0 L1192.6 2265.8 L1198.0 2297.6 L1205.8 2318.7 L1219.0 2300.0 L1232.3 2316.0 L1242.9 2332.0 L1256.0 2308.0 L1272.0 2297.6 L1280.0 2313.4 L1282.5 2334.6 L1287.8 2353.0 L1301.0 2332.0 L1314.3 2316.0 L1317.0 2345.0 L1319.6 2371.6 L1338.0 2371.6 L1341.3 2418.8 L1347.2 2395.7 L1350.6 2394.3 L1355.9 2393.8 L1359.7 2408.4 L1364.8 2409.5 L1369.4 2409.7 L1374.0 2423.1 L1376.9 2410.1 L1383.0 2389.5 L1386.0 2389.9 L1391.3 2403.4 L1396.2 2403.3 L1400.6 2389.4 L1404.4 2406.4 L1408.7 2401.3 L1412.3 2402.9 L1418.5 2377.5 L1422.2 2375.1 L1427.1 2369.1 L1432.0 2382.1 L1435.8 2380.9 L1439.2 2381.5 L1444.1 2385.2 L1447.8 2411.0 L1452.4 2405.3 L1458.2 2390.6 L1462.2 2389.6 L1465.4 2386.8 L1470.7 2418.6 L1474.9 2422.5 L1480.3 2400.2 L1484.7 2386.4 L1488.0 2409.3 L1491.8 2382.4 L1496.4 2369.6 L1501.8 2384.4 L1505.7 2393.7 L1509.3 2406.4 L1515.5 2377.7 L1519.6 2369.2 L1523.3 2381.0 L1527.0 2375.3 L1532.2 2397.5 L1537.2 2402.7 L1540.4 2419.8 L1544.9 2418.5 L1549.1 2393.0 L1553.5 2406.2 L1559.4 2406.0 L1564.0 2412.0 L1568.3 2381.2 L1571.9 2394.7 L1576.4 2412.6 L1580.0 2378.4 L1586.4 2378.0 L1590.1 2382.3 L1593.7 2393.4 L1598.0 2413.7 L1602.8 2392.2 L1607.5 2404.3 L1612.6 2394.2 L1615.6 2406.1 L1621.0 2395.0"/>
<path class="ln" stroke="#727272" stroke-width="6.5" d="M238.0 2400.0 L241.8 2396.7 L247.3 2395.7 L251.4 2407.9 L256.0 2381.0 L261.4 2391.9 L265.8 2412.0 L269.6 2412.9 L273.6 2417.6 L277.2 2388.1 L281.4 2381.2 L287.6 2376.5 L290.7 2364.8 L296.1 2365.8 L299.7 2386.7 L303.9 2385.9 L309.5 2404.8 L312.7 2431.8 L316.9 2436.4 L323.5 2417.3 L326.5 2388.9 L330.9 2393.0 L336.4 2412.8 L339.4 2392.4 L345.2 2406.2 L348.3 2385.7 L354.0 2389.8 L358.5 2405.9 L361.4 2427.1 L366.5 2422.3 L372.0 2416.8 L375.6 2390.4 L379.9 2390.9 L383.4 2416.2 L388.1 2410.4 L394.4 2403.5 L399.0 2369.3 L402.3 2363.1 L407.1 2381.6 L410.2 2379.9 L416.6 2384.5 L420.3 2417.2 L425.0 2420.8 L429.7 2380.5 L432.7 2363.5 L438.2 2366.5 L442.1 2376.4 L446.2 2401.9 L450.3 2400.6 L456.0 2413.8 L459.2 2376.6 L463.6 2384.3 L468.5 2381.1 L473.1 2408.2 L477.6 2390.6 L481.5 2380.5 L487.7 2402.6 L490.1 2410.9 L496.2 2369.8 L500.5 2379.2 L504.2 2413.5 L508.3 2391.4 L514.0 2378.5 L518.3 2421.5 L521.5 2427.5 L527.4 2394.1 L531.3 2369.7 L534.6 2367.8 L540.9 2406.7 L544.0 2419.4 L547.9 2417.2 L554.3 2408.5 L558.2 2387.2 L562.0 2382.6 L566.6 2401.6 L570.9 2413.6 L575.4 2399.3 L578.8 2394.6 L584.6 2395.1 L588.3 2420.1 L592.3 2423.8 L597.2 2397.8 L606.0 2405.0 L616.7 2357.5 L622.0 2315.0 L627.3 2278.0 L634.0 2241.0 L639.2 2198.7 L644.5 2159.0 L653.8 2148.5 L659.0 2132.6 L668.3 2130.0 L673.6 2116.7 L679.0 2108.8 L684.2 2119.4 L686.8 2151.0 L693.4 2167.0 L700.0 2180.0 L709.3 2184.0 L713.3 2204.0 L717.2 2235.8 L722.5 2254.3 L729.0 2251.6 L733.0 2272.8 L741.0 2294.0 L749.0 2299.0 L754.3 2294.0 L759.6 2315.0 L770.0 2325.7 L775.4 2304.5 L782.0 2331.0 L786.6 2314.3 L791.3 2294.0 L798.0 2352.0 L804.5 2304.5 L812.5 2315.0 L820.4 2341.6 L827.0 2341.6 L832.3 2299.0 L837.6 2278.5 L843.0 2275.4 L848.2 2312.5 L853.5 2344.0 L858.1 2332.6 L862.7 2328.4 L868.0 2323.5 L873.3 2325.7 L878.6 2330.8 L884.0 2349.5 L888.0 2347.0 L894.5 2339.0 L899.8 2342.7 L905.0 2354.8 L914.0 2352.0 L918.8 2361.6 L923.6 2378.6 L930.2 2360.2 L936.8 2344.0 L941.4 2364.2 L946.0 2373.4 L951.3 2375.7 L956.7 2383.1 L962.0 2397.0 L967.3 2380.0 L972.6 2384.0 L980.5 2394.6 L985.8 2395.6 L991.1 2382.8 L996.4 2368.0 L1001.7 2368.6 L1007.0 2370.4 L1012.3 2378.7 L1017.6 2393.3 L1022.9 2389.3 L1028.2 2374.5 L1033.4 2362.1 L1038.7 2352.0 L1044.0 2381.4 L1049.3 2405.0 L1054.5 2406.3 L1059.8 2410.8 L1065.0 2423.7 L1070.4 2401.6 L1075.8 2400.0 L1081.1 2416.6 L1086.3 2422.6 L1091.6 2426.0 L1099.6 2368.0 L1104.8 2394.4 L1110.0 2410.5 L1118.0 2384.0 L1124.0 2406.3 L1130.0 2434.0 L1136.0 2408.3 L1142.0 2400.0 L1148.5 2406.5 L1155.0 2415.8 L1160.3 2413.4 L1165.7 2382.9 L1171.0 2376.0 L1177.5 2387.7 L1184.0 2415.8 L1190.5 2413.2 L1197.0 2390.0 L1203.8 2393.0 L1210.7 2378.7 L1216.8 2385.9 L1222.9 2412.8 L1229.0 2423.7 L1235.7 2441.2 L1242.4 2437.0 L1249.1 2434.7 L1255.7 2410.5 L1262.3 2402.0 L1269.0 2378.7 L1273.6 2411.0 L1278.3 2436.1 L1283.8 2434.2 L1287.1 2428.5 L1292.8 2412.8 L1297.6 2392.5 L1300.1 2420.7 L1306.0 2407.3 L1310.5 2400.1 L1314.7 2377.4 L1319.2 2390.6 L1322.8 2413.8 L1326.9 2379.5 L1333.2 2369.2 L1335.9 2383.2 L1342.1 2391.0 L1346.3 2399.7 L1349.7 2396.6 L1354.4 2375.5 L1358.4 2365.7 L1362.7 2382.9 L1368.5 2389.6 L1371.2 2403.0 L1375.9 2410.8 L1382.2 2415.8 L1385.2 2401.2 L1390.2 2397.6 L1394.7 2416.6 L1399.3 2432.3 L1404.1 2411.5 L1408.4 2374.2 L1411.7 2390.9 L1416.2 2434.9 L1422.2 2434.9 L1426.5 2394.0 L1429.8 2374.3 L1433.9 2362.5 L1438.6 2365.2 L1444.1 2379.4 L1447.1 2432.0 L1451.1 2434.9 L1455.7 2392.9 L1460.4 2379.1 L1466.4 2421.8 L1469.1 2423.9 L1473.5 2425.7 L1479.4 2403.9 L1484.2 2426.2 L1488.8 2430.0 L1493.1 2421.1 L1497.6 2419.3 L1501.8 2417.2 L1506.6 2411.6 L1509.9 2422.6 L1515.3 2385.3 L1517.8 2388.6 L1522.7 2393.5 L1528.8 2405.5 L1532.0 2415.8 L1536.6 2382.0 L1541.5 2389.9 L1545.2 2396.3 L1548.8 2396.7 L1555.2 2410.9 L1558.1 2418.7 L1564.2 2413.9 L1567.8 2403.2 L1572.2 2403.3 L1577.7 2435.1 L1580.7 2432.6 L1586.1 2411.1 L1589.2 2379.1 L1595.1 2392.7 L1598.3 2407.5 L1604.1 2386.6 L1607.5 2392.4 L1613.0 2391.9 L1617.6 2386.2 L1621.0 2400.0"/>
<text x="293.7" y="119.3" font-size="53" text-anchor="middle" textLength="35" lengthAdjust="spacingAndGlyphs">A</text>
<text x="1539.2" y="1441.5" font-size="53" text-anchor="middle" textLength="31" lengthAdjust="spacingAndGlyphs">B</text>
<path d="M1054.0 86.6 h19 m6 0 h8" stroke="#000" stroke-width="5.5" fill="none"/>
<text x="1087.0" y="99.6" font-size="46" textLength="465" lengthAdjust="spacingAndGlyphs">Standard EDTA 100 µL</text>
<path d="M1054.0 184.6 h31" stroke="#000" stroke-width="5" fill="none"/>
<text x="1087.0" y="197.7" font-size="46" textLength="437" lengthAdjust="spacingAndGlyphs">Standard EDTA 10 µL</text>
<path d="M1054.0 282.8 h19 m6 0 h8" stroke="#b5b5b5" stroke-width="5.5" fill="none"/>
<text x="1087.0" y="295.7" font-size="46" textLength="489" lengthAdjust="spacingAndGlyphs">Standard citrate 100 µL</text>
<path d="M1054.0 380.4 h31" stroke="#727272" stroke-width="5" fill="none"/>
<text x="1087.0" y="393.3" font-size="46" textLength="465" lengthAdjust="spacingAndGlyphs">Standard citrate 10 µL</text>
<path d="M280.5 1414.0 h19 m6 0 h8" stroke="#000" stroke-width="5.5" fill="none"/>
<text x="314.5" y="1427.3" font-size="46" textLength="438" lengthAdjust="spacingAndGlyphs">Peach sample 100 µL</text>
<path d="M280.5 1518.4 h31" stroke="#000" stroke-width="5" fill="none"/>
<text x="314.5" y="1533.5" font-size="46" textLength="411" lengthAdjust="spacingAndGlyphs">Peach sample 10 µL</text>
<path d="M280.5 1623.7 h19 m6 0 h8" stroke="#9a9a9a" stroke-width="5.5" fill="none"/>
<text x="314.5" y="1638.8" font-size="46" textLength="519" lengthAdjust="spacingAndGlyphs">Pineapple sample 100 µL</text>
<path d="M280.5 1731.6 h31" stroke="#727272" stroke-width="5" fill="none"/>
<text x="314.5" y="1745.3" font-size="46" textLength="493" lengthAdjust="spacingAndGlyphs">Pineapple sample 10 µL</text>
</g></svg></body></html>
